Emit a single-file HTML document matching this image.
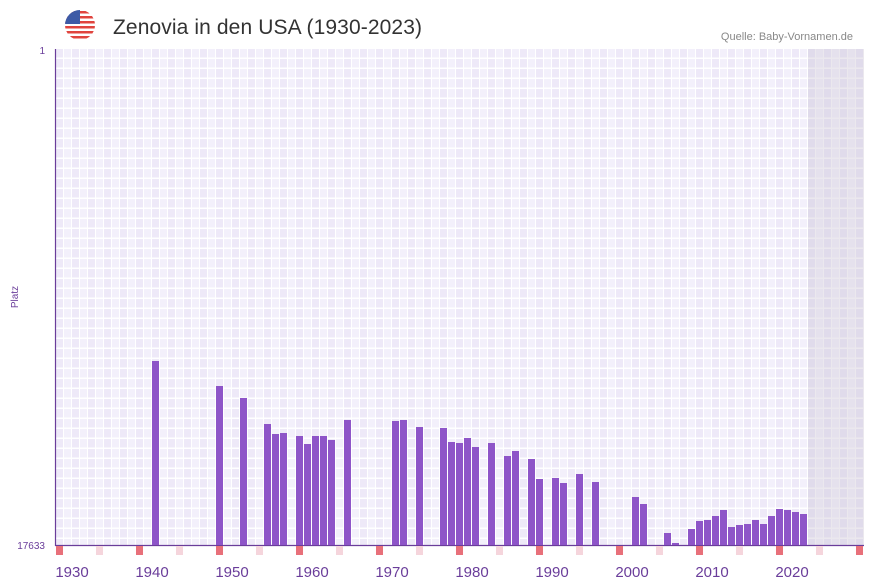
<!DOCTYPE html>
<html><head><meta charset="utf-8"><style>
body{margin:0;background:#fff;}
svg{display:block;font-family:"Liberation Sans",sans-serif;}
</style></head><body>
<svg width="873" height="587" viewBox="0 0 873 587" xmlns="http://www.w3.org/2000/svg">
<defs>
<pattern id="g" x="56" y="49" width="16" height="10" patternUnits="userSpaceOnUse">
<rect width="16" height="10" fill="#fff"/>
<rect x="0" y="0" width="7" height="8.5" fill="#eee9f8"/>
<rect x="8" y="0" width="7" height="8.5" fill="#f3f0fb"/>
</pattern>
<pattern id="g2" x="56" y="49" width="16" height="10" patternUnits="userSpaceOnUse">
<rect width="16" height="10" fill="#ebe8ee"/>
<rect x="0" y="0" width="7" height="8.5" fill="#e0dbeb"/>
<rect x="8" y="0" width="7" height="8.5" fill="#e5e1ed"/>
</pattern>
<clipPath id="fl"><circle cx="80" cy="25" r="15"/></clipPath>
</defs>
<g clip-path="url(#fl)">
<rect x="65" y="10" width="30" height="30" fill="#fff"/>
<rect x="65" y="11" width="30" height="2.5" fill="#e0443e"/>
<rect x="65" y="16" width="30" height="2.5" fill="#e0443e"/>
<rect x="65" y="21" width="30" height="2.5" fill="#e0443e"/>
<rect x="65" y="26" width="30" height="2.5" fill="#e0443e"/>
<rect x="65" y="31" width="30" height="2.5" fill="#e0443e"/>
<rect x="65" y="36" width="30" height="2.5" fill="#e0443e"/>
<rect x="65" y="10" width="15" height="14" fill="#3d5aa6"/>
</g>
<text x="113" y="34" font-size="21" fill="#333" textLength="309">Zenovia in den USA (1930-2023)</text>
<text x="853" y="40" font-size="11" fill="#888" text-anchor="end">Quelle: Baby-Vornamen.de</text>
<rect x="56" y="49" width="808" height="496" fill="url(#g)"/>
<rect x="808" y="49" width="56" height="496" fill="url(#g2)"/>
<line x1="55.5" y1="49" x2="55.5" y2="546" stroke="#6a3d9a" stroke-width="1.2"/>
<line x1="55" y1="545.5" x2="864" y2="545.5" stroke="#6a3d9a" stroke-width="1.2"/>
<text x="45" y="54" font-size="10" fill="#6a3d9a" text-anchor="end">1</text>
<text x="45" y="549" font-size="10" fill="#6a3d9a" text-anchor="end">17633</text>
<text x="18" y="297" font-size="10" fill="#6a3d9a" text-anchor="middle" transform="rotate(-90 18 297)">Platz</text>
<g fill="#8e55c8">
<rect x="152" y="361" width="7" height="184"/>
<rect x="216" y="386" width="7" height="159"/>
<rect x="240" y="398" width="7" height="147"/>
<rect x="264" y="424" width="7" height="121"/>
<rect x="272" y="434" width="7" height="111"/>
<rect x="280" y="433" width="7" height="112"/>
<rect x="296" y="436" width="7" height="109"/>
<rect x="304" y="444" width="7" height="101"/>
<rect x="312" y="436" width="7" height="109"/>
<rect x="320" y="436" width="7" height="109"/>
<rect x="328" y="440" width="7" height="105"/>
<rect x="344" y="420" width="7" height="125"/>
<rect x="392" y="421" width="7" height="124"/>
<rect x="400" y="420" width="7" height="125"/>
<rect x="416" y="427" width="7" height="118"/>
<rect x="440" y="428" width="7" height="117"/>
<rect x="448" y="442" width="7" height="103"/>
<rect x="456" y="443" width="7" height="102"/>
<rect x="464" y="438" width="7" height="107"/>
<rect x="472" y="447" width="7" height="98"/>
<rect x="488" y="443" width="7" height="102"/>
<rect x="504" y="456" width="7" height="89"/>
<rect x="512" y="451" width="7" height="94"/>
<rect x="528" y="459" width="7" height="86"/>
<rect x="536" y="479" width="7" height="66"/>
<rect x="552" y="478" width="7" height="67"/>
<rect x="560" y="483" width="7" height="62"/>
<rect x="576" y="474" width="7" height="71"/>
<rect x="592" y="482" width="7" height="63"/>
<rect x="632" y="497" width="7" height="48"/>
<rect x="640" y="504" width="7" height="41"/>
<rect x="664" y="533" width="7" height="12"/>
<rect x="672" y="543" width="7" height="2"/>
<rect x="688" y="529" width="7" height="16"/>
<rect x="696" y="521" width="7" height="24"/>
<rect x="704" y="520" width="7" height="25"/>
<rect x="712" y="516" width="7" height="29"/>
<rect x="720" y="510" width="7" height="35"/>
<rect x="728" y="527" width="7" height="18"/>
<rect x="736" y="525" width="7" height="20"/>
<rect x="744" y="524" width="7" height="21"/>
<rect x="752" y="520" width="7" height="25"/>
<rect x="760" y="524" width="7" height="21"/>
<rect x="768" y="516" width="7" height="29"/>
<rect x="776" y="509" width="7" height="36"/>
<rect x="784" y="510" width="7" height="35"/>
<rect x="792" y="512" width="7" height="33"/>
<rect x="800" y="514" width="7" height="31"/>
</g>
<g fill="#e8707a">
<rect x="56" y="546" width="7" height="9"/>
<rect x="136" y="546" width="7" height="9"/>
<rect x="216" y="546" width="7" height="9"/>
<rect x="296" y="546" width="7" height="9"/>
<rect x="376" y="546" width="7" height="9"/>
<rect x="456" y="546" width="7" height="9"/>
<rect x="536" y="546" width="7" height="9"/>
<rect x="616" y="546" width="7" height="9"/>
<rect x="696" y="546" width="7" height="9"/>
<rect x="776" y="546" width="7" height="9"/>
<rect x="856" y="546" width="7" height="9"/>
</g>
<g fill="#f5d5dc">
<rect x="96" y="546" width="7" height="9"/>
<rect x="176" y="546" width="7" height="9"/>
<rect x="256" y="546" width="7" height="9"/>
<rect x="336" y="546" width="7" height="9"/>
<rect x="416" y="546" width="7" height="9"/>
<rect x="496" y="546" width="7" height="9"/>
<rect x="576" y="546" width="7" height="9"/>
<rect x="656" y="546" width="7" height="9"/>
<rect x="736" y="546" width="7" height="9"/>
<rect x="816" y="546" width="7" height="9"/>
</g>
<g font-size="15" fill="#6a3d9a" text-anchor="middle">
<text x="72" y="577">1930</text>
<text x="152" y="577">1940</text>
<text x="232" y="577">1950</text>
<text x="312" y="577">1960</text>
<text x="392" y="577">1970</text>
<text x="472" y="577">1980</text>
<text x="552" y="577">1990</text>
<text x="632" y="577">2000</text>
<text x="712" y="577">2010</text>
<text x="792" y="577">2020</text>
</g>
</svg>
</body></html>
